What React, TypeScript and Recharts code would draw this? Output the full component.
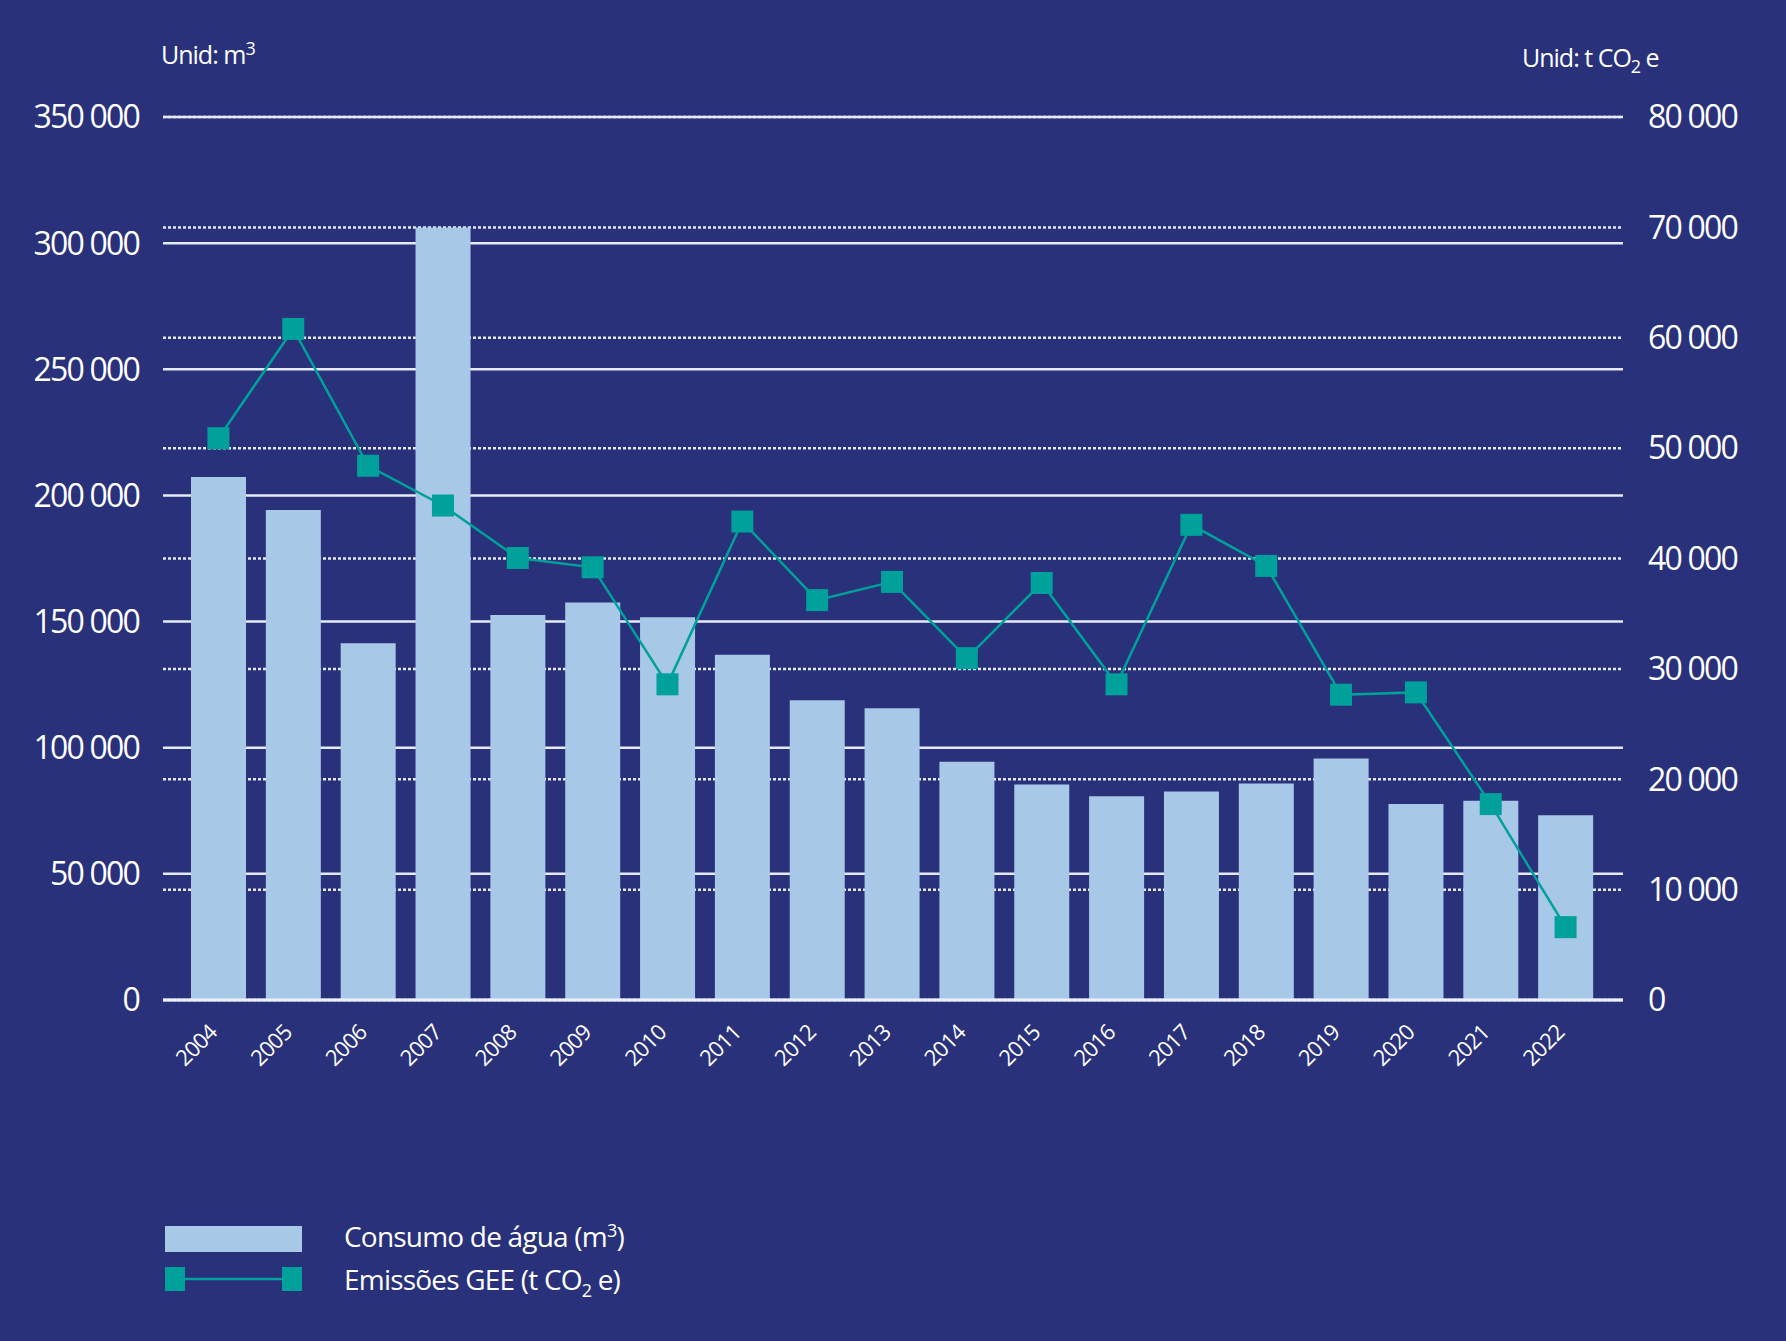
import { ComposedChart, Bar, Line, XAxis, YAxis, CartesianGrid } from "recharts";

const years = ["2004", "2005", "2006", "2007", "2008", "2009", "2010", "2011", "2012", "2013", "2014", "2015", "2016", "2017", "2018", "2019", "2020", "2021", "2022"];
const water = [207300, 194200, 141400, 306200, 152600, 157600, 151700, 136800, 118800, 115600, 94400, 85400, 80800, 82600, 85800, 95700, 77700, 79000, 73200];
const ghg = [50900, 60800, 48400, 44800, 40050, 39200, 28600, 43350, 36230, 37880, 30970, 37780, 28600, 43050, 39330, 27660, 27870, 17750, 6600];
const leftTicks = [0, 50000, 100000, 150000, 200000, 250000, 300000, 350000];
const rightTicks = [0, 10000, 20000, 30000, 40000, 50000, 60000, 70000, 80000];

const BG = "#28317a";
const BAR = "#a8c8e8";
const TEAL = "#00a19a";
const FONT = '"Open Sans", sans-serif';

const data = years.map((year, i) => ({ year, water: water[i], ghg: ghg[i] }));

const fmt = (v: number) => String(v).replace(/\B(?=(\d{3})+(?!\d))/g, " ");

const XTick = ({ x, y, payload }: any) => (
  <g transform={`translate(${x},${y + 32})`}>
    <text x={0} y={0} textAnchor="end" transform="rotate(-45)" fill="#fff" fontSize={22} letterSpacing={-0.8} fontFamily={FONT}>
      {payload.value}
    </text>
  </g>
);

const SquareDot = ({ cx, cy }: any) => <rect x={cx - 11} y={cy - 11} width={22} height={22} fill={TEAL} />;

export default function App() {
  return (
    <div style={{ position: "absolute", left: 0, top: 0, width: 1786, height: 1341, background: BG, fontFamily: FONT, color: "#fff" }}>
      <ComposedChart
        width={1786}
        height={1341}
        data={data}
        margin={{ top: 117, right: 0, left: 0, bottom: 261 }}
      >
        <XAxis
          dataKey="year"
          height={80}
          padding={{ left: 18, right: 20 }}
          tickLine={false}
          tickSize={0}
          axisLine={{ stroke: "#eef1fa", strokeWidth: 3 }}
          tick={<XTick />}
          interval={0}
        />
        <YAxis
          yAxisId="left"
          width={163}
          domain={[0, 350000]}
          ticks={leftTicks}
          tickFormatter={fmt}
          axisLine={false}
          tickLine={false}
          tickSize={0}
          tickMargin={24}
          tick={{ fill: "#fff", fontSize: 32, fontFamily: FONT, letterSpacing: -1.8 }}
        />
        <YAxis
          yAxisId="right"
          orientation="right"
          width={163}
          domain={[0, 80000]}
          ticks={rightTicks}
          tickFormatter={fmt}
          axisLine={false}
          tickLine={false}
          tickSize={0}
          tickMargin={25}
          tick={{ fill: "#fff", fontSize: 32, fontFamily: FONT, letterSpacing: -1.8, textAnchor: "start" }}
        />
        <Bar yAxisId="left" dataKey="water" fill={BAR} barSize={55} isAnimationActive={false} />
        <CartesianGrid yAxisId="left" vertical={false} stroke="#e6eaf7" strokeWidth={2.5} />
        <CartesianGrid yAxisId="right" vertical={false} stroke="#e6eaf7" strokeWidth={2.5} strokeDasharray="3 2" />
        <Line
          yAxisId="right"
          dataKey="ghg"
          stroke={TEAL}
          strokeWidth={2.5}
          dot={<SquareDot />}
          activeDot={false}
          isAnimationActive={false}
        />
      </ComposedChart>

      <div style={{ position: "absolute", left: 161, top: 38, fontSize: 25, letterSpacing: -1, lineHeight: "32px" }}>
        Unid: m<sup style={{ fontSize: 18, lineHeight: 0 }}>3</sup>
      </div>
      <div style={{ position: "absolute", left: 1522, top: 41, fontSize: 25, letterSpacing: -1, lineHeight: "32px" }}>
        Unid: t CO<sub style={{ fontSize: 18, lineHeight: 0 }}>2</sub> e
      </div>

      <div style={{ position: "absolute", left: 165, top: 1226, width: 137, height: 26, background: BAR }} />
      <div style={{ position: "absolute", left: 344, top: 1218, fontSize: 28, letterSpacing: -0.8, lineHeight: "36px" }}>
        Consumo de água (m<sup style={{ fontSize: 18, lineHeight: 0 }}>3</sup>)
      </div>
      <svg style={{ position: "absolute", left: 165, top: 1267 }} width={137} height={24}>
        <line x1={10} y1={12} x2={127} y2={12} stroke={TEAL} strokeWidth={2.5} />
        <rect x={0} y={0} width={20} height={24} fill={TEAL} />
        <rect x={117} y={0} width={20} height={24} fill={TEAL} />
      </svg>
      <div style={{ position: "absolute", left: 344, top: 1261, fontSize: 28, letterSpacing: -0.8, lineHeight: "36px" }}>
        Emissões GEE (t CO<sub style={{ fontSize: 18, lineHeight: 0 }}>2</sub> e)
      </div>
    </div>
  );
}
